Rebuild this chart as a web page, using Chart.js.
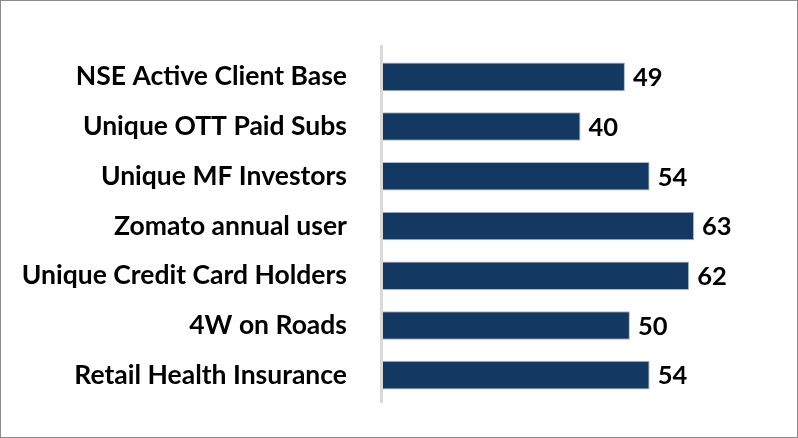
<!DOCTYPE html>
<html>
<head>
<meta charset="utf-8">
<script src="https://cdn.jsdelivr.net/npm/chart.js@4.4.1/dist/chart.umd.min.js"></script>
<style>
  html, body { margin: 0; padding: 0; background: #ffffff; }
  #wrap { position: relative; width: 798px; height: 438px; }
  #frame { position: absolute; left: 0; top: 0; width: 798px; height: 438px; box-sizing: border-box; border: 1px solid #8c8c8c; pointer-events: none; }
  canvas { position: absolute; left: 0; top: 0; }
</style>
</head>
<body>
<div id="wrap">
  <canvas id="c" width="798" height="438"></canvas>
  <div id="frame"></div>
</div>
<script>
const categories = [
  "NSE Active Client Base",
  "Unique OTT Paid Subs",
  "Unique MF Investors",
  "Zomato annual user",
  "Unique Credit Card Holders",
  "4W on Roads",
  "Retail Health Insurance"
];
const values = [49, 40, 54, 63, 62, 50, 54];

const FONT = "Lato, 'Open Sans', sans-serif";

const valueLabels = {
  id: 'valueLabels',
  afterDatasetsDraw(chart) {
    const ctx = chart.ctx;
    const meta = chart.getDatasetMeta(0);
    ctx.save();
    ctx.font = "bold 25.5px " + FONT;
    ctx.fillStyle = "#000000";
    ctx.textAlign = "left";
    ctx.textBaseline = "middle";
    meta.data.forEach((bar, i) => {
      ctx.fillText(String(values[i]), bar.x + 8, bar.y + 1);
    });
    ctx.restore();
  }
};

const axisLine = {
  id: 'axisLine',
  beforeDatasetsDraw(chart) {
    const ctx = chart.ctx;
    const a = chart.chartArea;
    ctx.save();
    ctx.strokeStyle = "#d9d9d9";
    ctx.lineWidth = 3;
    ctx.beginPath();
    ctx.moveTo(a.left - 1.5, a.top - 7);
    ctx.lineTo(a.left - 1.5, a.bottom + 3);
    ctx.stroke();
    ctx.restore();
  }
};

new Chart(document.getElementById('c'), {
  type: 'bar',
  data: {
    labels: categories,
    datasets: [{
      data: values,
      backgroundColor: "#133963",
      borderColor: "#a9b9cf",
      borderWidth: 1,
      categoryPercentage: 1.0,
      barPercentage: 0.575
    }]
  },
  options: {
    indexAxis: 'y',
    responsive: false,
    maintainAspectRatio: false,
    animation: false,
    layout: { padding: { left: 0, right: 20, top: 52, bottom: 38 } },
    plugins: { legend: { display: false }, tooltip: { enabled: false } },
    scales: {
      x: {
        display: false,
        min: 0,
        max: 80
      },
      y: {
        afterFit(scale) { scale.width = 383; scale.paddingTop = 0; scale.paddingBottom = 0; },
        grid: { display: false, drawTicks: false, tickLength: 0 },
        border: { display: false },
        ticks: {
          color: "#000000",
          padding: 36,
          font: { family: FONT, size: 26.5, weight: 'bold' }
        }
      }
    }
  },
  plugins: [axisLine, valueLabels]
});
</script>
</body>
</html>
